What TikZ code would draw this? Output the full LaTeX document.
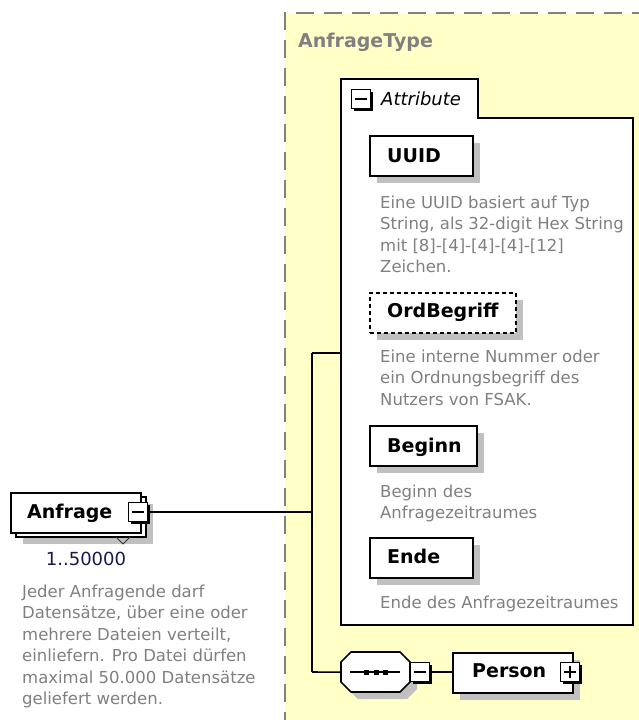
\documentclass[tikz,border=0pt]{standalone}
\usepackage{fontspec}
\setmainfont{DejaVu Sans}
\usetikzlibrary{shadows}
\definecolor{typebg}{RGB}{255,255,200}
\definecolor{shgray}{RGB}{192,192,192}
\definecolor{dashgray}{RGB}{128,128,128}
\definecolor{desccol}{RGB}{128,128,128}
\definecolor{occcol}{RGB}{25,25,80}
\begin{document}
\begin{tikzpicture}[x=1pt,y=-1pt,
  conn/.style={line width=1.6pt, draw=black},
  elbox/.style={draw=black, fill=white, line width=1.6pt, rectangle, inner sep=0pt, anchor=north west, minimum height=40pt},
  shadowed/.style={general shadow={fill=shgray, shadow xshift=7pt, shadow yshift=-7pt}},
  lbl/.style={anchor=base west, inner sep=0pt, font={\fontsize{19}{23}\selectfont\bfseries}},
  desc/.style={anchor=base west, inner sep=0pt, align=left, text=desccol, font={\fontsize{16.5}{21.5}\selectfont}},
  toggle/.style={draw=black, fill=white, line width=1.2pt, rectangle, inner sep=0pt, anchor=north west, minimum width=19pt, minimum height=19pt, general shadow={fill=black, shadow xshift=2pt, shadow yshift=-2pt}},
  minus/.style={toggle, path picture={\draw[line width=1.4pt] ([xshift=3.5pt]path picture bounding box.west) -- ([xshift=-3.5pt]path picture bounding box.east);}},
  plus/.style={toggle, path picture={\draw[line width=1.4pt] ([xshift=3.5pt]path picture bounding box.west) -- ([xshift=-3.5pt]path picture bounding box.east); \draw[line width=1.4pt] ([yshift=-3.5pt]path picture bounding box.north) -- ([yshift=3.5pt]path picture bounding box.south);}},
]
\useasboundingbox (0,0) rectangle (639,720);
\fill[white] (0,0) rectangle (639,720);
% type area
\fill[typebg] (285,13) rectangle (650,730);
\draw[dashgray, line width=2pt, dash pattern=on 18pt off 10pt] (285,730) -- (285,13) -- (650,13);
\node[anchor=base west, inner sep=0pt, text=dashgray, font={\fontsize{19}{23}\selectfont\bfseries}] (typetitle) at (298,47) {AnfrageType};

% attribute container
\draw[line width=1.6pt, fill=white] (341,79) -- (478,79) -- (478,118) -- (633,118) -- (633,625) -- (341,625) -- cycle;
\node[minus] (attrtoggle) at (351,89) {};
\node[anchor=base west, inner sep=0pt, font={\fontsize{18}{22}\selectfont\itshape}] (attrlbl) at (381,105) {Attribute};

% UUID (anchor base = baseline of the last line)
\node[elbox, shadowed, minimum width=103pt] (uuid) at (369,135) {};
\node[lbl] (uuidlbl) at (387,162) {UUID};
\node[desc] (uuiddesc) at (380,272.5) {Eine UUID basiert auf Typ\\String, als 32-digit Hex String\\mit [8]-[4]-[4]-[4]-[12]\\Zeichen.};

% OrdBegriff
\node[elbox, shadowed, dash pattern=on 4pt off 3pt, minimum width=146pt] (ordb) at (369,292) {};
\node[lbl] (ordblbl) at (387,317) {OrdBegriff};
\node[desc] (ordbdesc) at (380,405) {Eine interne Nummer oder\\ein Ordnungsbegriff des\\Nutzers von FSAK.};

% Beginn
\node[elbox, shadowed, minimum width=107pt] (beginn) at (369,425) {};
\node[lbl] (beginnlbl) at (387,452) {Beginn};
\node[desc] (beginndesc) at (380,518.5) {Beginn des\\Anfragezeitraumes};

% Ende
\node[elbox, shadowed, minimum width=103pt] (ende) at (369,537) {};
\node[lbl] (endelbl) at (387,563) {Ende};
\node[desc] (endedesc) at (380,608) {Ende des Anfragezeitraumes};

% Anfrage element
\fill[shgray] (23,504) rectangle (153,544);
\draw[line width=1.6pt, fill=white] (16,497) rectangle (146,537);
\draw[line width=1pt, black!80] (116,537) -- (123,544) -- (130,537);
\node[elbox, minimum width=130pt] (anfrage) at (10,492) {};
\node[lbl] (anfragelbl) at (27,518) {Anfrage};
\node[minus] (anfragetoggle) at (128,502) {};
\node[anchor=base, inner sep=0pt, text=occcol, font={\fontsize{18}{22}\selectfont}] (occ) at (86,565) {1..50000};
\node[desc] (anfragedesc) at (22,704.5) {Jeder Anfragende darf\\Datensätze, über eine oder\\mehrere Dateien verteilt,\\einliefern. Pro Datei dürfen\\maximal 50.000 Datensätze\\geliefert werden.};

% sequence compositor
\node[inner sep=0pt, minimum width=69pt, minimum height=40pt, anchor=north west] (seq) at (341,652) {};
\fill[shgray] (358,659) -- (407,659) -- (417,669) -- (417,689) -- (407,699) -- (358,699) -- (348,689) -- (348,669) -- cycle;
\draw[line width=1.6pt, fill=white] (351,652) -- (400,652) -- (410,662) -- (410,682) -- (400,692) -- (351,692) -- (341,682) -- (341,662) -- cycle;
\draw[line width=1.4pt] (350,672) -- (400,672);
\fill (364,669.5) rectangle +(5,5);
\fill (373.5,669.5) rectangle +(5,5);
\fill (383,669.5) rectangle +(5,5);
\node[minus] (seqtoggle) at (410,662) {};

% Person
\node[elbox, shadowed, minimum width=120pt] (person) at (452,652) {};
\node[lbl] (personlbl) at (472,677) {Person};
\node[plus] (persontoggle) at (560,662) {};

% connectors
\coordinate (jA) at (312,512);
\coordinate (jT) at (312,353);
\coordinate (jB) at (312,672);
\coordinate (attrw) at (341,353);
\draw[conn] (anfragetoggle.east) -- (anfragetoggle.east -| jA);
\draw[conn] (jT) -- (jB);
\draw[conn] (jT) -- (attrw);
\draw[conn] (jB) -- (seq.west);
\draw[conn] (seqtoggle.east) -- (seqtoggle.east -| person.west);
\end{tikzpicture}
\end{document}
